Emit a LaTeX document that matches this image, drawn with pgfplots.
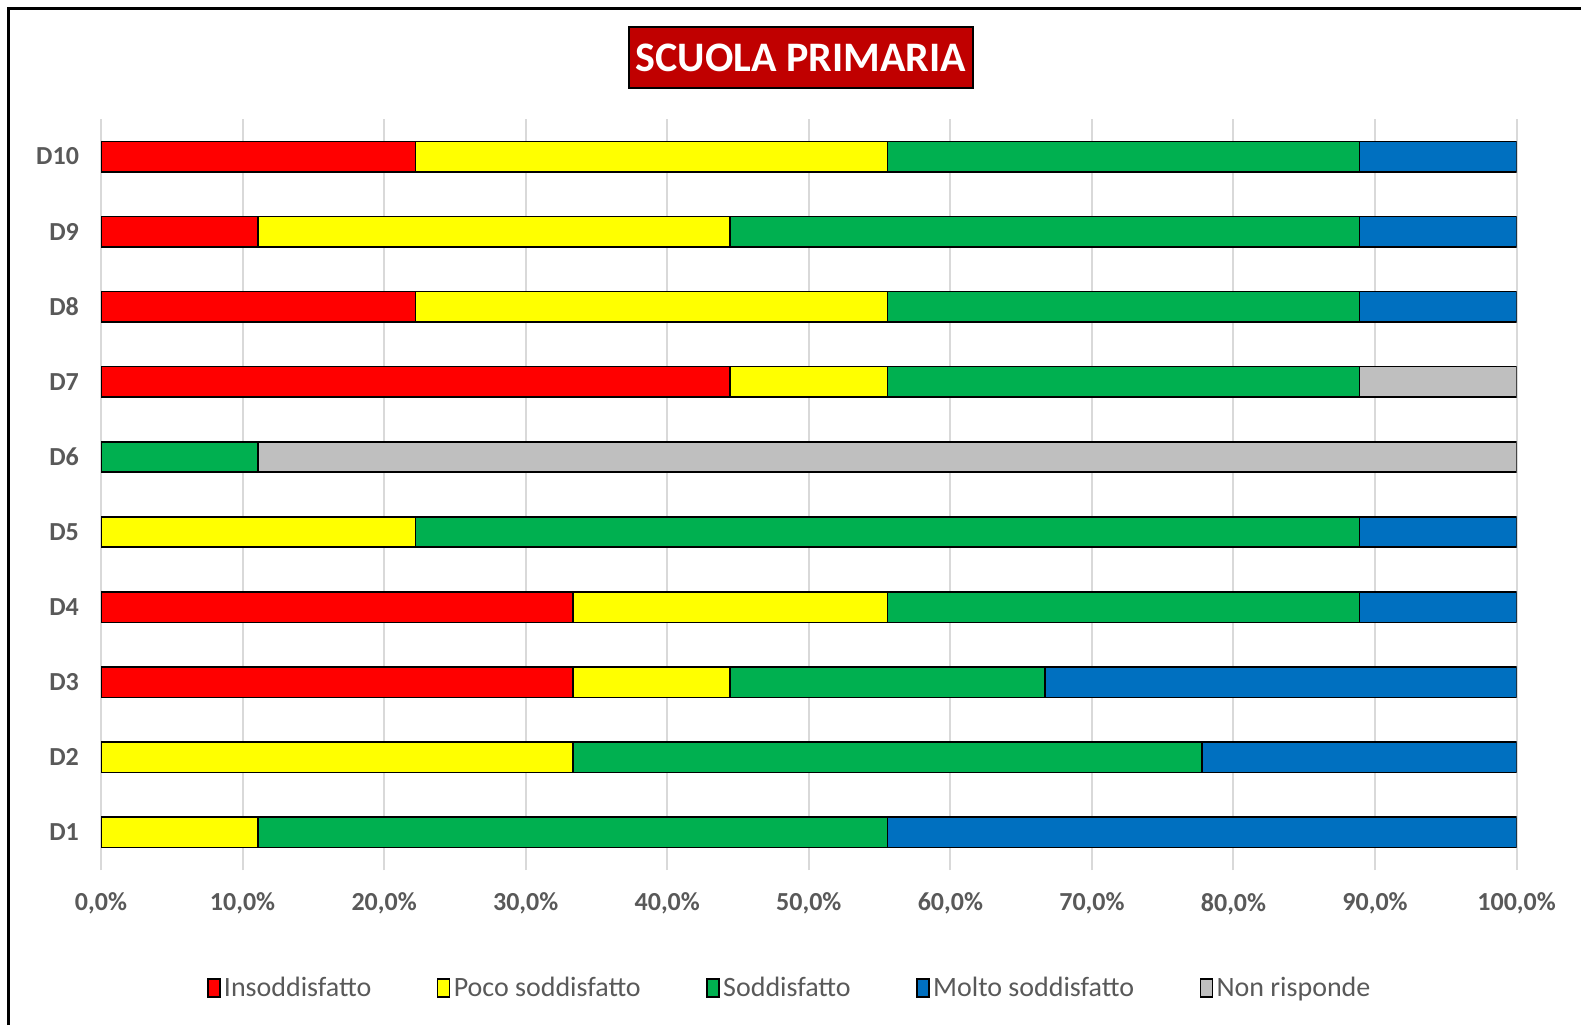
\documentclass[border=0pt]{standalone}
\usepackage{pgfplots}
\pgfplotsset{compat=1.18}
\usepackage{pgfplotstable}
\usepackage{fontspec}
\setmainfont{Carlito}
\definecolor{cIns}{HTML}{FF0000}
\definecolor{cPoco}{HTML}{FFFF00}
\definecolor{cSodd}{HTML}{00B050}
\definecolor{cMolto}{HTML}{0070C0}
\definecolor{cNon}{HTML}{BFBFBF}
\definecolor{titlered}{HTML}{C00000}
\definecolor{labgray}{HTML}{595959}
\definecolor{gridgray}{HTML}{D9D9D9}
\pgfplotstableread{
cat Ins Poco Sodd Molto Non
1 0 11.11 44.45 44.44 0
2 0 33.33 44.45 22.22 0
3 33.33 11.11 22.23 33.33 0
4 33.33 22.22 33.34 11.11 0
5 0 22.22 66.67 11.11 0
6 0 0 11.11 0 88.89
7 44.44 11.11 33.34 0 11.11
8 22.22 33.33 33.34 11.11 0
9 11.11 33.33 44.45 11.11 0
10 22.22 33.33 33.34 11.11 0
}\datatable
\begin{document}
\begin{tikzpicture}
\useasboundingbox (0,0) rectangle (790.5pt,512.5pt);
\draw[line width=1.5pt] (4.25pt,0pt) -- (4.25pt,508pt) -- (790.5pt,508pt);
\begin{axis}[
  at={(50.5pt,77.5pt)}, anchor=south west,
  scale only axis, width=707.8pt, height=375.5pt,
  xbar stacked, bar width=15.2pt,
  xmin=0, xmax=100, ymin=0.5, ymax=10.5,
  axis line style={draw=none},
  major tick length=0pt,
  xmajorgrids, grid style={gridgray, line width=1pt},
  xtick={0,10,...,100},
  xticklabels={{0,0\%},{10,0\%},{20,0\%},{30,0\%},{40,0\%},{50,0\%},{60,0\%},{70,0\%},{80,0\%},{90,0\%},{100,0\%}},
  ytick={1,...,10},
  yticklabels={D1,D2,D3,D4,D5,D6,D7,D8,D9,D10},
  xticklabel style={font=\fontsize{13}{15}\selectfont\bfseries, text=labgray, yshift=-8pt},
  yticklabel style={font=\fontsize{13}{15}\selectfont\bfseries, text=labgray, xshift=-7.5pt},
  legend columns=5,
  legend style={at={(0.487,-0.157)}, anchor=center, draw=none, fill=none,
    font=\fontsize{14}{16}\selectfont, text=labgray,
    nodes={inner sep=1.7pt},
    /tikz/every even column/.append style={column sep=31pt}},
  legend image code/.code={\draw[#1, line width=0.8pt] (0pt,-4.5pt) rectangle (6pt,4.5pt);},
  every axis plot/.append style={draw=black, line width=0.8pt},
]
\addplot[fill=cIns] table[x=Ins, y=cat] {\datatable};
\addplot[fill=cPoco] table[x=Poco, y=cat] {\datatable};
\addplot[fill=cSodd] table[x=Sodd, y=cat] {\datatable};
\addplot[fill=cMolto] table[x=Molto, y=cat] {\datatable};
\addplot[fill=cNon] table[x=Non, y=cat] {\datatable};
\legend{Insoddisfatto, Poco soddisfatto, Soddisfatto, Molto soddisfatto, Non risponde}
\end{axis}
\node[fill=titlered, draw=black, line width=1pt, text=white,
  font=\fontsize{21}{24}\selectfont\bfseries, minimum width=172pt, minimum height=30.5pt,
  inner sep=0pt] at (400.5pt,483.75pt) {SCUOLA PRIMARIA};
\end{tikzpicture}
\end{document}
